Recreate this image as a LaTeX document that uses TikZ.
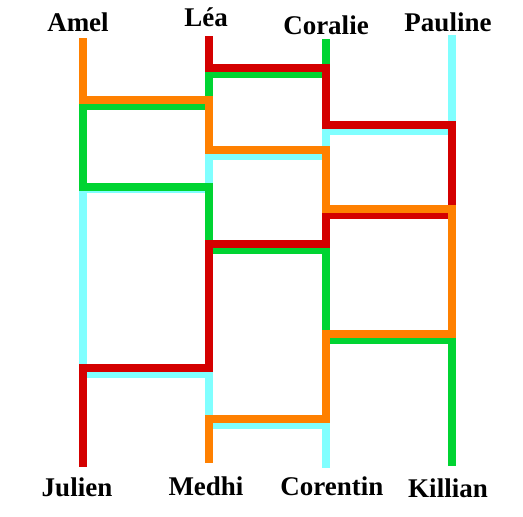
\documentclass[tikz,border=0pt]{standalone}
\usepackage{fontspec}
\setmainfont{Liberation Serif}
\usepackage{xcolor}
\usepackage{tikz}
\definecolor{amelorange}{RGB}{255,128,0}
\definecolor{leared}{RGB}{212,0,0}
\definecolor{coraliegreen}{RGB}{0,212,50}
\definecolor{paulinecyan}{RGB}{128,255,255}

\begin{document}
\begin{tikzpicture}[
    x=1pt, y=-1pt,
    person/.style={anchor=base, font=\bfseries\fontsize{27}{30}\selectfont},
    route/.style={line width=8pt, line join=miter}
]
\useasboundingbox (0,0) rectangle (523,517);

% names at the top
\node[person] (amel) at (78,31) {Amel};
\node[person] (lea) at (206,26) {Léa};
\node[person] (coralie) at (326,34) {Coralie};
\node[person] (pauline) at (448,31) {Pauline};

% names at the bottom
\node[person] (julien) at (77,496) {Julien};
\node[person] (medhi) at (206,495) {Medhi};
\node[person] (corentin) at (332,495) {Corentin};
\node[person] (killian) at (448,497) {Killian};

% routes
\draw[route, paulinecyan] (452,35) -- (452,131) -- (326,131) -- (326,156) -- (209,156)
  -- (209,189) -- (83,189) -- (83,374) -- (209,374) -- (209,425) -- (326,425) -- (326,468);
\draw[route, coraliegreen] (326,39) -- (326,74) -- (209,74) -- (209,106) -- (83,106)
  -- (83,187) -- (209,187) -- (209,250) -- (326,250) -- (326,340) -- (452,340) -- (452,466);
\draw[route, leared] (209,36) -- (209,68) -- (326,68) -- (326,125) -- (452,125)
  -- (452,215) -- (326,215) -- (326,244) -- (209,244) -- (209,368) -- (83,368) -- (83,467);
\draw[route, amelorange] (83,38) -- (83,100) -- (209,100) -- (209,150) -- (326,150)
  -- (326,209) -- (452,209) -- (452,334) -- (326,334) -- (326,419) -- (209,419) -- (209,463);
\end{tikzpicture}
\end{document}
